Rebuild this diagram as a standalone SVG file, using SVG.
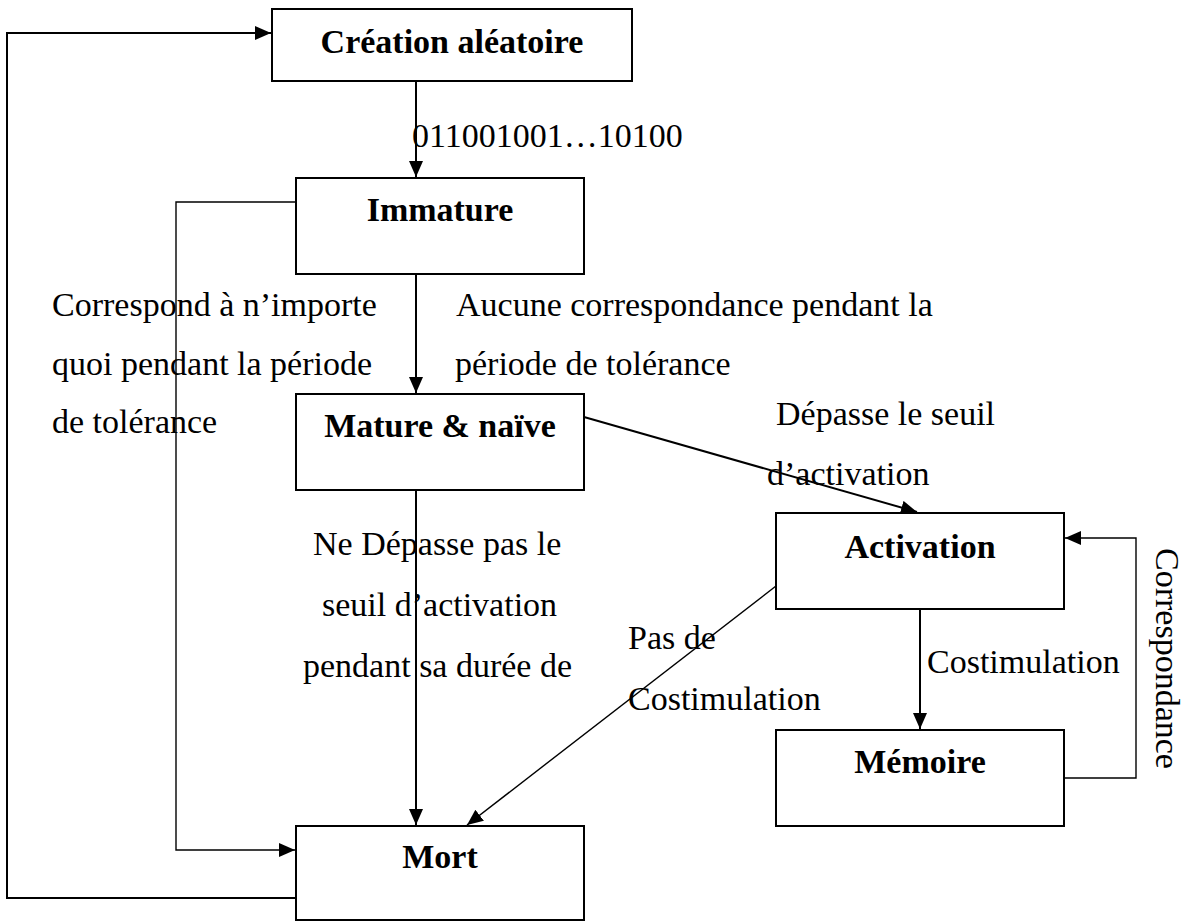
<svg xmlns="http://www.w3.org/2000/svg" width="1186" height="922" viewBox="0 0 1186 922">
<style>
  .box { fill: #fff; stroke: #000; stroke-width: 2; }
  .title { font-family: "Liberation Serif", "Times New Roman", serif; font-weight: bold; font-size: 34px; text-anchor: middle; fill: #000; }
  .lbl { font-family: "Liberation Serif", "Times New Roman", serif; font-size: 34px; fill: #000; }
  .ln { fill: none; stroke: #000; stroke-width: 2; }
  .thin { fill: none; stroke: #000; stroke-width: 1.4; }
</style>
<defs>
  <marker id="ah" markerUnits="userSpaceOnUse" markerWidth="18" markerHeight="16" refX="16" refY="7" orient="auto">
    <path d="M0,0 L16,7 L0,14 z" fill="#000"/>
  </marker>
</defs>
<rect width="1186" height="922" fill="#fff"/>

<g id="connectors">
  <polyline class="ln" points="296,898 7,898 7,33 271,33" marker-end="url(#ah)"/>
  <line class="ln" x1="416" y1="81" x2="416" y2="177" marker-end="url(#ah)"/>
  <polyline class="thin" points="296,202 176,202 176,850 295,850" marker-end="url(#ah)"/>
  <line class="ln" x1="416" y1="274" x2="416" y2="393" marker-end="url(#ah)"/>
  <line class="ln" x1="584" y1="417" x2="917" y2="512" marker-end="url(#ah)"/>
  <line class="ln" x1="416" y1="490" x2="416" y2="825" marker-end="url(#ah)"/>
  <line class="thin" x1="776" y1="586" x2="467" y2="825" marker-end="url(#ah)"/>
  <line class="ln" x1="920" y1="609" x2="920" y2="729" marker-end="url(#ah)"/>
  <polyline class="thin" points="1064,778 1136,778 1136,538 1065,538" marker-end="url(#ah)"/>
</g>

<g id="creation">
  <rect class="box" x="272" y="9" width="360" height="72"/>
  <text class="title" x="452" y="53">Création aléatoire</text>
</g>
<g id="immature">
  <rect class="box" x="296" y="178" width="288" height="96"/>
  <text class="title" x="440" y="221">Immature</text>
</g>
<g id="mature">
  <rect class="box" x="296" y="394" width="288" height="96"/>
  <text class="title" x="440" y="437">Mature &amp; naïve</text>
</g>
<g id="activation">
  <rect class="box" x="776" y="513" width="288" height="96"/>
  <text class="title" x="920" y="558">Activation</text>
</g>
<g id="memoire">
  <rect class="box" x="776" y="730" width="288" height="96"/>
  <text class="title" x="920" y="773">Mémoire</text>
</g>
<g id="mort">
  <rect class="box" x="296" y="826" width="288" height="94"/>
  <text class="title" x="440" y="868">Mort</text>
</g>

<g id="labels">
  <text class="lbl" x="412" y="147">011001001…10100</text>
  <text class="lbl" x="52" y="316">Correspond à n’importe</text>
  <text class="lbl" x="52" y="375">quoi pendant la période</text>
  <text class="lbl" x="52" y="433">de tolérance</text>
  <text class="lbl" x="456" y="316">Aucune correspondance pendant la</text>
  <text class="lbl" x="455" y="375">période de tolérance</text>
  <text class="lbl" x="776" y="425">Dépasse le seuil</text>
  <text class="lbl" x="767" y="485">d’activation</text>
  <text class="lbl" x="313" y="555">Ne Dépasse pas le</text>
  <text class="lbl" x="322" y="616">seuil d’activation</text>
  <text class="lbl" x="303" y="677">pendant sa durée de</text>
  <text class="lbl" x="628" y="649">Pas de</text>
  <text class="lbl" x="628" y="710">Costimulation</text>
  <text class="lbl" x="927" y="673">Costimulation</text>
  <text class="lbl" transform="translate(1156,548) rotate(90)">Correspondance</text>
</g>
</svg>
